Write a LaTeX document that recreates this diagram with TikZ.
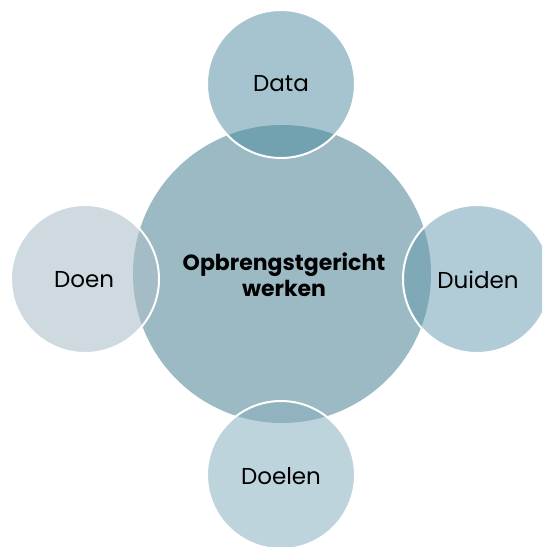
\documentclass[tikz,border=0pt]{standalone}
\usepackage{fontspec}
\setmainfont{Poppins}
\definecolor{mainc}{HTML}{9CBAC4}
\definecolor{topc}{HTML}{A6C4CF}
\definecolor{topo}{HTML}{72A1AF}
\definecolor{leftc}{HTML}{CEDADF}
\definecolor{lefto}{HTML}{A3BCC5}
\definecolor{rightc}{HTML}{B2CCD7}
\definecolor{righto}{HTML}{7FA9B7}
\definecolor{botc}{HTML}{BED4DC}
\definecolor{boto}{HTML}{91B3BF}
\tikzset{
  lbl/.style={font=\fontsize{23}{26}\selectfont, text=black},
  centerlbl/.style={font=\bfseries\fontsize{22}{26}\selectfont, align=center, text=black},
  ring/.style={draw=white, line width=2pt}
}
\begin{document}
\begin{tikzpicture}[x=1pt,y=-1pt]
\useasboundingbox (0,0) rectangle (542,547);
\clip (0,0) rectangle (542,547);
\coordinate (M) at (282,274);
\coordinate (T) at (281,84);
\coordinate (L) at (85,279);
\coordinate (R) at (477,279);
\coordinate (B) at (281,475);
\fill[mainc] (M) circle (149);
% satellites
\foreach \p/\c/\o in {T/topc/topo, L/leftc/lefto, R/rightc/righto, B/botc/boto}{
  \fill[\c] (\p) circle (74);
  \begin{scope}
    \clip (\p) circle (74);
    \fill[\o] (M) circle (149);
  \end{scope}
  \draw[ring] (\p) circle (74);
}
\node[centerlbl] (c) at (284,275) {Opbrengstgericht\\werken};
\node[lbl] (d1) at (281,84) {Data};
\node[lbl] (d2) at (84,280) {Doen};
\node[lbl] (d3) at (478,280) {Duiden};
\node[lbl] (d4) at (281,476) {Doelen};
\end{tikzpicture}
\end{document}
